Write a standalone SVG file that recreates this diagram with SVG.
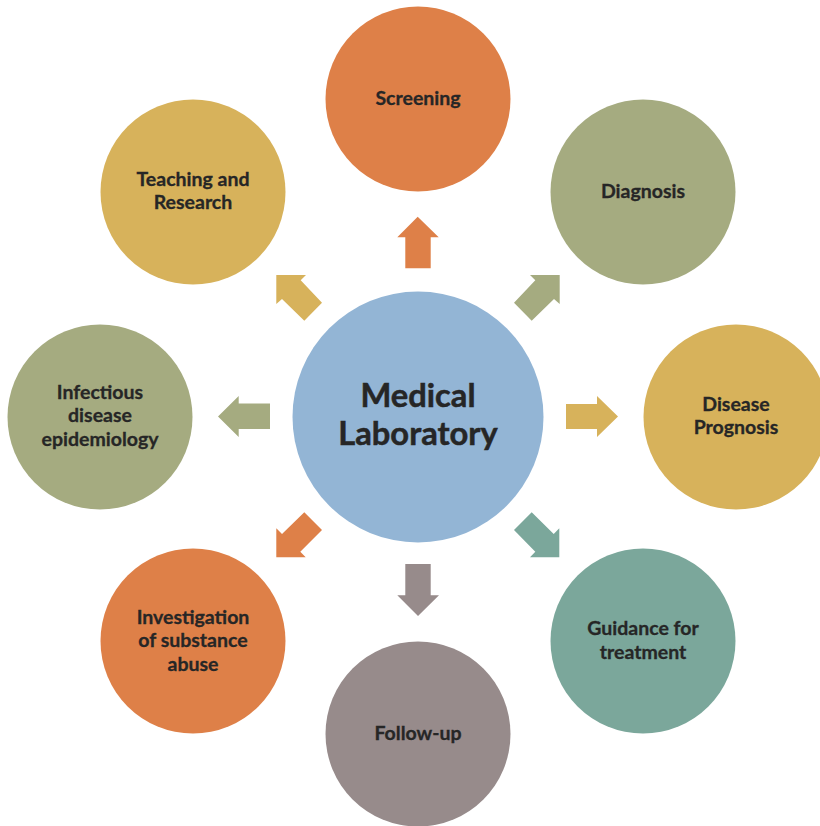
<svg xmlns="http://www.w3.org/2000/svg" width="820" height="826" viewBox="0 0 820 826">
<style>
text{font-family:"Lato","Liberation Sans",sans-serif;font-weight:700;fill:#262626;stroke:#262626;stroke-width:.3px;text-anchor:middle;font-size:19.500px}
.big{font-size:32.700px;stroke-width:.5px}
.o{fill:#de8048}.g{fill:#a5ab80}.y{fill:#d7b25b}.t{fill:#7ba79b}.m{fill:#978b8b}.b{fill:#93b5d5}
</style>
<rect width="820" height="826" fill="#fff"/>
<g id="connectors">
<polygon class="o" points="417.700,216.700 438.700,237.300 430.700,237.300 430.700,268.300 405.300,268.300 405.300,237.300 397.300,237.300"/>
<polygon class="g" points="530,275 559.700,275 559.700,304 554,299 531.700,320.700 514,302.700 535.300,280.300"/>
<polygon class="y" points="618,416.500 597,437 597,429 566,429 566,404 597,404 597,396"/>
<polygon class="t" points="531.700,512.300 553.700,534 559.300,528.300 559.300,557.300 530,557.300 535.300,551.700 514,530"/>
<polygon class="m" points="418,616 397.300,595.300 405.300,595.300 405.300,564 430.700,564 430.700,595.300 439,595.300"/>
<polygon class="o" points="304.300,512.300 322,530 300.300,551.700 305.700,557.300 276.300,557.300 276.300,528.300 282,534"/>
<polygon class="g" points="218,416.500 238.700,396 238.700,403.500 270,403.500 270,429 238.700,429 238.700,437"/>
<polygon class="y" points="306,275 276.300,275 276.300,304 282,299 304.300,320.700 322,302.700 300.700,280.300"/>
</g>
<g id="center"><circle class="b" cx="418" cy="417" r="125.500"/><text class="big" x="418" y="407">Medical</text><text class="big" x="418" y="445">Laboratory</text></g>
<g id="screening"><circle class="o" cx="418" cy="99" r="92.500"/><text x="418" y="105">Screening</text></g>
<g id="diagnosis"><circle class="g" cx="643" cy="192" r="92.500"/><text x="643" y="198">Diagnosis</text></g>
<g id="prognosis"><circle class="y" cx="736" cy="417" r="92.500"/><text x="736" y="411">Disease</text><text x="736" y="434">Prognosis</text></g>
<g id="guidance"><circle class="t" cx="643" cy="641" r="92.500"/><text x="643" y="635">Guidance for</text><text x="643" y="659">treatment</text></g>
<g id="followup"><circle class="m" cx="418" cy="734" r="92.500"/><text x="418" y="740">Follow-up</text></g>
<g id="investigation"><circle class="o" cx="193" cy="641" r="92.500"/><text x="193" y="624">Investigation</text><text x="193" y="647">of substance</text><text x="193" y="671">abuse</text></g>
<g id="epidemiology"><circle class="g" cx="100" cy="417" r="92.500"/><text x="100" y="399">Infectious</text><text x="100" y="422">disease</text><text x="100" y="446">epidemiology</text></g>
<g id="teaching"><circle class="y" cx="193" cy="192" r="92.500"/><text x="193" y="186">Teaching and</text><text x="193" y="209">Research</text></g>
</svg>
